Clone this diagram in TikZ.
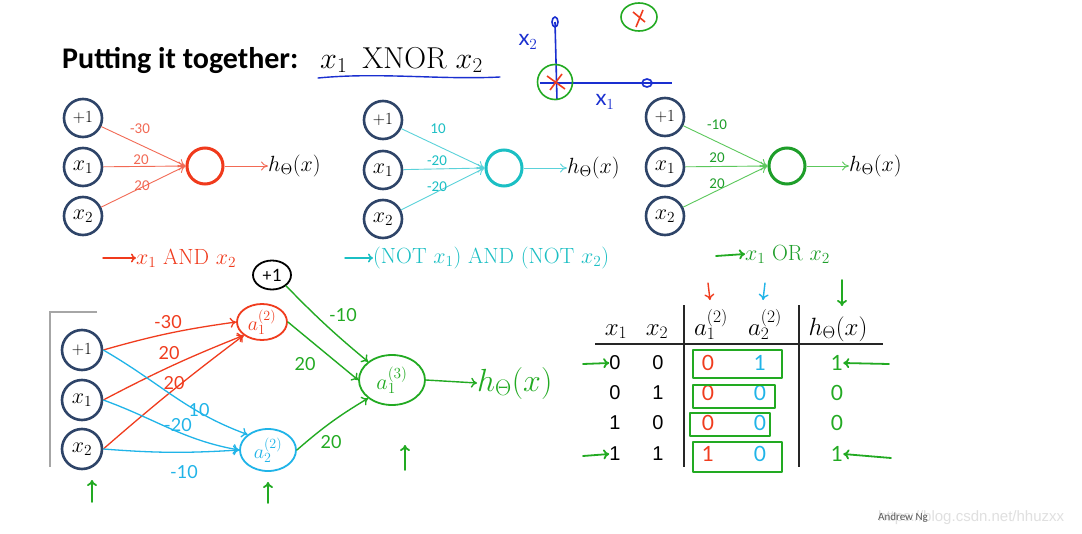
\RequirePackage{fix-cm}
\documentclass[tikz,border=0pt]{standalone}
\usepackage{fontspec}
\newfontfamily\carl{Carlito}
\newfontfamily\hand{Lato}
\newfontfamily\ari{Liberation Sans}
\usetikzlibrary{arrows.meta,shapes.geometric}
\definecolor{inpc}{HTML}{2E4468}
\definecolor{rl}{HTML}{F26A55}
\definecolor{rc}{HTML}{F03A1C}
\definecolor{cl}{HTML}{5AD2DA}
\definecolor{cc}{HTML}{1BBFC4}
\definecolor{gl}{HTML}{5CC85C}
\definecolor{gc}{HTML}{1E9E2A}
\definecolor{hg}{HTML}{22AA22}
\definecolor{hr}{HTML}{F03C1E}
\definecolor{hc}{HTML}{20B4E8}
\definecolor{bl}{HTML}{1A2FD0}
\tikzset{
  inp/.style={circle,draw=inpc,line width=2.6pt,minimum size=38pt,inner sep=0pt,font=\fontsize{22}{24}\selectfont},
  pone/.style={font=\fontsize{17}{19}\selectfont},
  outn/.style={circle,line width=3pt,minimum size=36pt,inner sep=0pt},
  wl/.style={font=\carl\fontsize{15}{17}\selectfont,inner sep=0pt},
  edg/.style={line width=0.9pt,-{To[length=7pt,width=9pt]}},
  hd/.style={line width=1.8pt,line cap=round,line join=round},
  harr/.style={hd,-{To[length=6pt,width=10pt]}},
  hout/.style={font=\fontsize{22}{24}\selectfont,anchor=west,inner sep=0pt},
  lbl/.style={font=\fontsize{22}{24}\selectfont,anchor=west,inner sep=0pt},
  htxt/.style={font=\hand\fontsize{18}{20}\selectfont,inner sep=0pt},
  hnode/.style={ellipse,hd,inner sep=0pt},
  tdig/.style={font=\ari\fontsize{20}{22}\selectfont,inner sep=0pt},
  hdig/.style={font=\hand\fontsize{21}{23}\selectfont,inner sep=0pt},
  thd/.style={font=\fontsize{25}{27}\selectfont,anchor=base,inner sep=0pt},
  hbox/.style={hd,draw=hg}
}
\begin{document}
\begin{tikzpicture}[x=1pt,y=-1pt]
\useasboundingbox (0,0) rectangle (1082,533);
\fill[white] (0,0) rectangle (1082,533);
% title
\node[anchor=base west,inner sep=0pt,font=\carl\bfseries\fontsize{30}{32}\selectfont] (title) at (62,68) {Putting it together:};
\node[anchor=base west,inner sep=0pt,font=\fontsize{28}{30}\selectfont] (xnor) at (320,68) {\scalebox{1.08}{$x_1\hspace{0.5em}\mathrm{XNOR}\hspace{0.3em}x_2$}};
\draw[bl,line width=1.4pt,line cap=round] (318,78) .. controls (380,72) and (440,80) .. (500,77);
% sketch
\draw[bl,line width=1.6pt] (555,22) -- (557,100);
\draw[bl,line width=1.6pt] (540,83) -- (672,83);
\node[ellipse,draw=bl,line width=1.6pt,minimum width=6pt,minimum height=10pt,inner sep=0pt] (ytop) at (555,22) {};
\node[ellipse,draw=bl,line width=1.6pt,minimum width=10pt,minimum height=8pt,inner sep=0pt] (xr) at (647,83) {};
\node[circle,draw=hg,line width=1.6pt,minimum size=35pt,inner sep=0pt] (org) at (555,82) {};
\draw[hr,line width=1.6pt] (547,76) -- (565,89) (550,90) -- (562,74);
\node[ellipse,draw=hg,line width=1.6pt,minimum width=36pt,minimum height=28pt,inner sep=0pt] (p11) at (639,17) {};
\draw[hr,line width=1.6pt] (633,12) -- (645,22) (643,10) -- (636,27);
\node[htxt,text=bl,font=\hand\fontsize{22}{24}\selectfont] (sx2) at (528,42) {x$_2$};
\node[htxt,text=bl,font=\hand\fontsize{22}{24}\selectfont] (sx1) at (605,102) {x$_1$};
% network 1 (AND)
\node[inp,pone] (a0) at (83,118) {$+1$};
\node[inp] (a1) at (83,167) {$x_1$};
\node[inp] (a2) at (83,216) {$x_2$};
\node[outn,draw=rc] (ao) at (205,166) {};
\node[hout] (ah) at (268,166) {$h_\Theta(x)$};
\draw[edg,rl] (a0) -- (ao.west);
\draw[edg,rl] (a1) -- (ao.west);
\draw[edg,rl] (a2) -- (ao.west);
\draw[edg,rl] (ao) -- (ah.west);
\node[wl,text=rl] (wa0) at (140,129) {-30};
\node[wl,text=rl] (wa1) at (141,160) {20};
\node[wl,text=rl] (wa2) at (142,186) {20};
\node[lbl,text=rc] (al) at (136,258) {$x_1$ AND $x_2$};
\coordinate (alc) at (103,258);
\draw[hd,line width=1.5pt,rc,-{To[length=5pt,width=9pt]}] (alc) -- (al.west);
% network 2 (NOT AND NOT)
\node[inp,pone] (b0) at (383,120) {$+1$};
\node[inp] (b1) at (383,170) {$x_1$};
\node[inp] (b2) at (383,219) {$x_2$};
\node[outn,draw=cc] (bo) at (504,168) {};
\node[hout] (bh) at (567,168) {$h_\Theta(x)$};
\draw[edg,cl] (b0) -- (bo.west);
\draw[edg,cl] (b1) -- (bo.west);
\draw[edg,cl] (b2) -- (bo.west);
\draw[edg,cl] (bo) -- (bh.west);
\node[wl,text=cc] (wb0) at (438,129) {10};
\node[wl,text=cc] (wb1) at (437,161) {-20};
\node[wl,text=cc] (wb2) at (437,187) {-20};
\node[lbl,text=cc] (bl) at (373,258) {(NOT $x_1$) AND (NOT $x_2$)};
\coordinate (blc) at (345,258);
\draw[hd,line width=1.5pt,cc,-{To[length=5pt,width=9pt]}] (blc) -- (bl.west);
% network 3 (OR)
\node[inp,pone] (c0) at (665,117) {$+1$};
\node[inp] (c1) at (665,167) {$x_1$};
\node[inp] (c2) at (665,216) {$x_2$};
\node[outn,draw=gc] (co) at (787,166) {};
\node[hout] (ch) at (849,166) {$h_\Theta(x)$};
\draw[edg,gl] (c0) -- (co.west);
\draw[edg,gl] (c1) -- (co.west);
\draw[edg,gl] (c2) -- (co.west);
\draw[edg,gl] (co) -- (ch.west);
\node[wl,text=gc] (wc0) at (717,125) {-10};
\node[wl,text=gc] (wc1) at (717,158) {20};
\node[wl,text=gc] (wc2) at (717,184) {20};
\node[lbl,text=gc] (cl) at (745,254) {$x_1$ OR $x_2$};
\coordinate (clc) at (716,256);
\draw[harr,hg] (clc) -- (cl.west);
% bottom network
\draw[gray!70,line width=1.5pt] (97,312) -- (50,312) -- (50,467);
\node[inp,pone,minimum size=40pt] (d0) at (82,350) {$+1$};
\node[inp,minimum size=40pt] (d1) at (82,400) {$x_1$};
\node[inp,minimum size=40pt] (d2) at (82,449) {$x_2$};
\node[hnode,draw=hr,minimum width=50pt,minimum height=36pt,text=hr,font=\fontsize{20}{22}\selectfont] (h1) at (262,322) {$a^{(2)}_1$};
\node[hnode,draw=hc,minimum width=56pt,minimum height=42pt,text=hc,font=\fontsize{20}{22}\selectfont] (h2) at (268,450) {$a^{(2)}_2$};
\node[hnode,draw=black,minimum width=38pt,minimum height=29pt,font=\hand\fontsize{17}{19}\selectfont] (hp) at (272,275) {+1};
\node[hnode,draw=hg,minimum width=66pt,minimum height=50pt,text=hg,font=\fontsize{22}{24}\selectfont] (h3) at (392,380) {$a^{(3)}_1$};
\node[anchor=west,inner sep=0pt,text=hg,font=\fontsize{32}{34}\selectfont] (hy) at (477,383) {$h_{\Theta}(x)$};
% red edges
\draw[harr,line width=1.3pt,hr] (d0.east) to[bend left=4] (h1.west);
\draw[harr,line width=1.3pt,hr] (d1.east) to[bend left=3] (h1.south west);
\draw[harr,line width=1.3pt,hr] (d2.east) to[bend left=2] (h1.south west);
\node[htxt,text=hr] (lr0) at (168,322) {-30};
\node[htxt,text=hr] (lr1) at (169,353) {20};
\node[htxt,text=hr] (lr2) at (174,383) {20};
% cyan edges
\draw[harr,line width=1.3pt,hc] (d0.east) to[out=-30,in=160] (h2.north west);
\draw[harr,line width=1.3pt,hc] (d1.east) to[out=-20,in=170] (h2.west);
\draw[harr,line width=1.3pt,hc] (d2.east) to[bend left=-4] (h2.west);
\node[htxt,text=hc] (lc0) at (199,410) {10};
\node[htxt,text=hc] (lc1) at (178,425) {-20};
\node[htxt,text=hc] (lc2) at (184,472) {-10};
% green edges
\draw[harr,line width=1.4pt,hg] (hp.south east) to[bend left=-3] (h3.north west);
\draw[harr,line width=1.4pt,hg] (h1.east) -- (h3.west);
\draw[harr,line width=1.4pt,hg] (h2.east) to[bend left=5] (h3.south west);
\draw[harr,line width=1.4pt,hg] (h3.east) -- (hy.west);
\node[htxt,text=hg] (lg0) at (343,315) {-10};
\node[htxt,text=hg] (lg1) at (305,364) {20};
\node[htxt,text=hg] (lg2) at (331,442) {20};
\coordinate (u1s) at (92,502); \coordinate (u1e) at (92,480);
\coordinate (u2s) at (268,503); \coordinate (u2e) at (268,482);
\coordinate (u3s) at (405,470); \coordinate (u3e) at (405,445);
\draw[harr,hg] (u1s) -- (u1e);
\draw[harr,hg] (u2s) -- (u2e);
\draw[harr,hg] (u3s) -- (u3e);
% table
\node[thd] (tx1) at (616,335) {$x_1$};
\node[thd] (tx2) at (657,335) {$x_2$};
\node[thd] (ta1) at (711,335) {$a^{(2)}_1$};
\node[thd] (ta2) at (765,335) {$a^{(2)}_2$};
\node[thd] (th) at (838,335) {$h_\Theta(x)$};
\draw[black!85,line width=1.3pt] (595,344) -- (883,344);
\draw[black!85,line width=1.3pt] (684,305) -- (684,467);
\draw[black!85,line width=1.3pt] (799,305) -- (799,467);
\foreach \y/\p/\q/\r/\c/\g [count=\i] in {363/0/0/0/1/1, 393/0/1/0/0/0, 423/1/0/0/0/0, 454/1/1/1/0/1}{
  \node[tdig] (tp\i) at (615,\y) {\p};
  \node[tdig] (tq\i) at (658,\y) {\q};
  \node[hdig,text=hr] (tr\i) at (708,\y) {\r};
  \node[hdig,text=hc] (tc\i) at (760,\y) {\c};
  \node[hdig,text=hg] (tg\i) at (837,\y) {\g};
}
\draw[hbox] (693,350) rectangle (782,378);
\draw[hbox] (693,385) rectangle (775,408);
\draw[hbox] (690,413) rectangle (770,436);
\draw[hbox] (693,442) rectangle (782,472);
\coordinate (la1) at (583,364); \coordinate (la4) at (583,456);
\coordinate (ra1) at (889,364); \coordinate (ra4) at (891,458);
\draw[harr,hg] (la1) -- (tp1.west);
\draw[harr,hg] (la4) -- (tp4.west);
\draw[harr,hg] (ra1) -- (tg1.east);
\draw[harr,hg] (ra4) -- (tg4.east);
\coordinate (da) at (708,283); \coordinate (dae) at (710,300);
\coordinate (db) at (765,283); \coordinate (dbe) at (763,300);
\coordinate (dc) at (842,280); \coordinate (dce) at (842,306);
\draw[harr,line width=1.4pt,hr] (da) -- (dae);
\draw[harr,line width=1.4pt,hc] (db) -- (dbe);
\draw[harr,hg] (dc) -- (dce);
% credits
\node[anchor=west,inner sep=0pt,text=black!12,font=\ari\fontsize{15}{17}\selectfont] (wm) at (878,518) {https://blog.csdn.net/hhuzxx};
\node[anchor=west,inner sep=0pt,text=black!65,font=\carl\fontsize{11}{13}\selectfont] (ng) at (878,518) {Andrew Ng};
\end{tikzpicture}
\end{document}
